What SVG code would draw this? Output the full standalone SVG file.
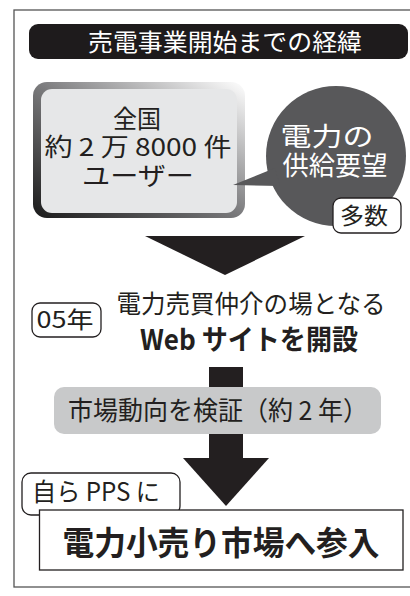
<svg xmlns="http://www.w3.org/2000/svg" width="410" height="596" viewBox="0 0 410 596">
<defs>
<linearGradient id="frameGrad" x1="0" y1="1" x2="1" y2="0">
<stop offset="0" stop-color="#1a1a1a"/>
<stop offset="0.5" stop-color="#7a7a7c"/>
<stop offset="1" stop-color="#ffffff"/>
</linearGradient>
<style>
text{font-family:"Noto Sans CJK JP","Noto Sans CJK SC",sans-serif;text-anchor:middle}
.w{fill:#ffffff}
.k{fill:#231f20}
.b{font-weight:bold}
.tag{fill:#ffffff;stroke:#231f20;stroke-width:1.3}
</style>
</defs>
<rect x="0" y="0" width="410" height="596" fill="#ffffff"/>
<rect x="14" y="10" width="400" height="577" fill="#ffffff" stroke="#555555" stroke-width="1.3"/>

<g id="title">
<rect x="29" y="24" width="379" height="35" rx="9" fill="#1e1b1c"/>
<text x="225" y="51" class="w" font-size="24" textLength="274" lengthAdjust="spacingAndGlyphs">売電事業開始までの経緯</text>
</g>

<g id="connectors">
<polygon points="145,236 305,236 225,275" fill="#231f20"/>
<rect x="209" y="367" width="34" height="92" fill="#231f20"/>
<polygon points="183,458 269,458 226,506" fill="#231f20"/>
</g>

<g id="users">
<rect x="33" y="82" width="212" height="136" rx="14" fill="url(#frameGrad)"/>
<rect x="41" y="89" width="196" height="124" rx="11" fill="#e6e7e8"/>
<text x="137" y="128" class="k" font-size="24.5" textLength="48" lengthAdjust="spacingAndGlyphs">全国</text>
<text x="138" y="156" class="k" font-size="24.5" textLength="187" lengthAdjust="spacingAndGlyphs">約 2 万 8000 件</text>
<text x="138" y="185" class="k" font-size="24.5" textLength="112" lengthAdjust="spacingAndGlyphs">ユーザー</text>
</g>

<g id="demand">
<circle cx="336" cy="156" r="70" fill="#58585a"/>
<polygon points="233,185 275,168 280,186" fill="#58585a"/>
<text x="327" y="146" class="w" font-size="26" textLength="93" lengthAdjust="spacingAndGlyphs">電力の</text>
<text x="335" y="175" class="w" font-size="26" textLength="105" lengthAdjust="spacingAndGlyphs">供給要望</text>
</g>

<g id="many">
<rect x="333" y="198" width="68" height="35" rx="8" class="tag"/>
<text x="364" y="224" class="k" font-size="23" textLength="48" lengthAdjust="spacingAndGlyphs">多数</text>
</g>

<g id="year05">
<rect x="32" y="303" width="69" height="34" rx="8" class="tag"/>
<text x="65" y="328" class="k" font-size="23" textLength="57" lengthAdjust="spacingAndGlyphs">05年</text>
</g>

<g id="website">
<text x="251" y="313" class="k" font-size="25.5" textLength="269" lengthAdjust="spacingAndGlyphs">電力売買仲介の場となる</text>
<text x="249" y="350" class="k b" font-size="28" textLength="218" lengthAdjust="spacingAndGlyphs">Web サイトを開設</text>
</g>

<g id="verify">
<rect x="54" y="387" width="327" height="47" rx="10" fill="#c8c9ca"/>
<text x="218" y="420" class="k" font-size="26" textLength="300" lengthAdjust="spacingAndGlyphs">市場動向を検証（約 2 年）</text>
</g>

<g id="pps">
<rect x="22" y="473" width="158" height="42" rx="9" class="tag"/>
<text x="96" y="501" class="k" font-size="25" textLength="128" lengthAdjust="spacingAndGlyphs">自ら PPS に</text>
</g>

<g id="entry">
<rect x="39.5" y="510" width="363.5" height="60" fill="#ffffff" stroke="#231f20" stroke-width="1.3"/>
<text x="221" y="555" class="k b" font-size="33" textLength="317" lengthAdjust="spacingAndGlyphs">電力小売り市場へ参入</text>
</g>
</svg>
